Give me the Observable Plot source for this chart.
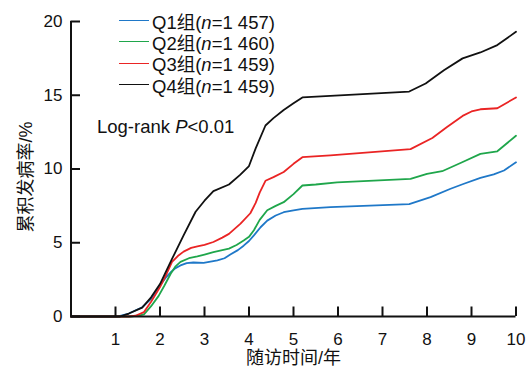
<!DOCTYPE html>
<html><head><meta charset="utf-8">
<script src="https://cdn.jsdelivr.net/npm/d3@7"></script>
<script src="https://cdn.jsdelivr.net/npm/@observablehq/plot@0.6"></script>
<style>
body{margin:0;background:#fff;}
#wrap{position:relative;width:532px;height:378px;font-family:"Liberation Sans",Arial,"Noto Sans CJK SC",sans-serif;color:#111;}
#wrap svg{position:absolute;left:0;top:0;}
.legend{position:absolute;left:119px;top:10px;font-size:18.5px;}
.legend .row{display:flex;align-items:center;height:21.3px;white-space:nowrap;}
.legend .sw{width:30px;height:0;border-top:1.8px solid;margin-right:3px;}
.note{position:absolute;left:97px;top:116px;font-size:18.5px;line-height:22px;white-space:nowrap;}
</style></head><body><div id="wrap"></div>
<script>
const groups = ["Q1组","Q2组","Q3组","Q4组"];
const sizes = ["1 457","1 460","1 459","1 459"];
const colors = ["#1f78c8","#1fa64b","#ea2424","#111111"];
const xTicks = [1,2,3,4,5,6,7,8,9,10];
const yTicks = [0,5,10,15,20];
const xLabel = "随访时间/年";
const yLabel = "累积发病率/%";
const noteText = "Log-rank";

const q1T = [0,1.04,1.3,1.6,1.8,2.0,2.12,2.24,2.35,2.46,2.6,2.75,2.98,3.29,3.45,3.58,3.75,3.88,4.0,4.11,4.26,4.41,4.6,4.78,5.0,5.2,5.83,7.6,8.08,8.53,8.83,9.2,9.5,9.73,10];
const q1V = [0,0,0.2,0.63,1.2,2.1,2.6,3.0,3.28,3.46,3.62,3.66,3.64,3.8,3.95,4.2,4.5,4.8,5.12,5.5,6.05,6.5,6.85,7.07,7.2,7.3,7.41,7.62,8.09,8.66,9.0,9.4,9.63,9.9,10.45];
const q2T = [0,1.3,1.5,1.64,1.8,1.97,2.1,2.24,2.35,2.46,2.65,2.84,3.0,3.2,3.55,3.72,3.88,4.0,4.11,4.24,4.41,4.6,4.78,5.0,5.2,5.5,5.98,7.63,8.0,8.34,8.79,9.2,9.58,10];
const q2V = [0,0,0.05,0.14,0.7,1.4,2.1,2.9,3.4,3.7,3.95,4.07,4.2,4.36,4.6,4.85,5.15,5.4,5.85,6.55,7.2,7.5,7.75,8.3,8.88,8.95,9.1,9.33,9.67,9.85,10.46,11.03,11.2,12.25];
const q3T = [0,1.3,1.45,1.64,1.8,2.0,2.15,2.27,2.4,2.53,2.7,2.84,3.0,3.2,3.4,3.55,3.81,4.03,4.15,4.24,4.37,4.55,4.78,5.0,5.2,5.83,7.63,8.12,8.45,8.8,9.0,9.2,9.58,10];
const q3V = [0,0,0.05,0.3,1.0,2.0,2.9,3.7,4.1,4.4,4.65,4.75,4.85,5.05,5.35,5.6,6.3,7.0,7.7,8.4,9.2,9.45,9.8,10.35,10.8,10.92,11.35,12.1,12.85,13.6,13.9,14.05,14.12,14.85];
const q4T = [0,1.1,1.3,1.6,1.8,2.0,2.27,2.53,2.8,3.0,3.2,3.55,3.8,4.0,4.15,4.37,4.55,4.78,5.0,5.2,7.6,7.97,8.38,8.8,9.2,9.58,10];
const q4V = [0,0,0.2,0.6,1.3,2.2,3.9,5.5,7.1,7.85,8.5,8.95,9.6,10.2,11.4,12.95,13.45,14.0,14.45,14.85,15.25,15.8,16.7,17.5,17.9,18.4,19.3];

const seriesT = [q1T,q2T,q3T,q4T];
const seriesV = [q1V,q2V,q3V,q4V];

const W = 532, H = 378, mL = 70.5, mR = 16.5, mT = 21, mB = 62;
const xMax = 10, yMax = 20;
const frameW = W - mL - mR, frameH = H - mT - mB, tickLen = 9.5;
const tickLenY = tickLen * yMax / frameH;   // inward tick length through the y scale
const tickLenX = tickLen * xMax / frameW;   // inward tick length through the x scale
const font = '"Liberation Sans",Arial,"Noto Sans CJK SC",sans-serif';

const seriesMarks = groups.map((g,i) =>
  Plot.line(seriesT[i].map((t,j) => ({t, v: seriesV[i][j]})), {x: "t", y: "v", stroke: colors[i], strokeWidth: 1.8, strokeLinejoin: "round"})
);

const chart = Plot.plot({
  width: W, height: H,
  marginLeft: mL, marginRight: mR, marginTop: mT, marginBottom: mB,
  x: {domain: [0,xMax]},
  y: {domain: [0,yMax]},
  style: {fontFamily: font, fontSize: "17px", color: "#111"},
  marks: [
    ...seriesMarks,
    Plot.axisX(xTicks, {tickSize: 0, tickPadding: 16, label: null, fontSize: 17}),
    Plot.axisY(yTicks, {tickSize: 0, tickPadding: 8.5, label: null, fontSize: 17}),
    Plot.text([xLabel], {frameAnchor: "bottom", lineAnchor: "middle", textAnchor: "middle", dy: 42, fontSize: 18, fill: "#111"}),
    Plot.text([yLabel], {frameAnchor: "left", lineAnchor: "middle", textAnchor: "middle", rotate: -90, dx: -45, dy: 8, fontSize: 18, fill: "#111"}),
    Plot.ruleY([0], {stroke: "#111", strokeWidth: 2}),
    Plot.ruleX([0], {stroke: "#111", strokeWidth: 2}),
    Plot.ruleX(xTicks, {x: d => d, y1: 0, y2: tickLenY, stroke: "#111", strokeWidth: 2}),
    Plot.ruleY(yTicks, {y: d => d, x1: 0, x2: tickLenX, stroke: "#111", strokeWidth: 2})
  ]
});

const wrap = document.getElementById("wrap");
wrap.appendChild(chart);

const legend = document.createElement("div");
legend.className = "legend";
groups.forEach((g,i) => {
  const row = document.createElement("div");
  row.className = "row";
  const sw = document.createElement("span");
  sw.className = "sw";
  sw.style.borderTopColor = colors[i];
  const tx = document.createElement("span");
  tx.innerHTML = `${g}(<i>n</i>=${sizes[i]})`;
  row.appendChild(sw); row.appendChild(tx);
  legend.appendChild(row);
});
wrap.appendChild(legend);

const note = document.createElement("div");
note.className = "note";
note.innerHTML = `${noteText} <i>P</i>&lt;0.01`;
wrap.appendChild(note);
</script>
</body></html>
